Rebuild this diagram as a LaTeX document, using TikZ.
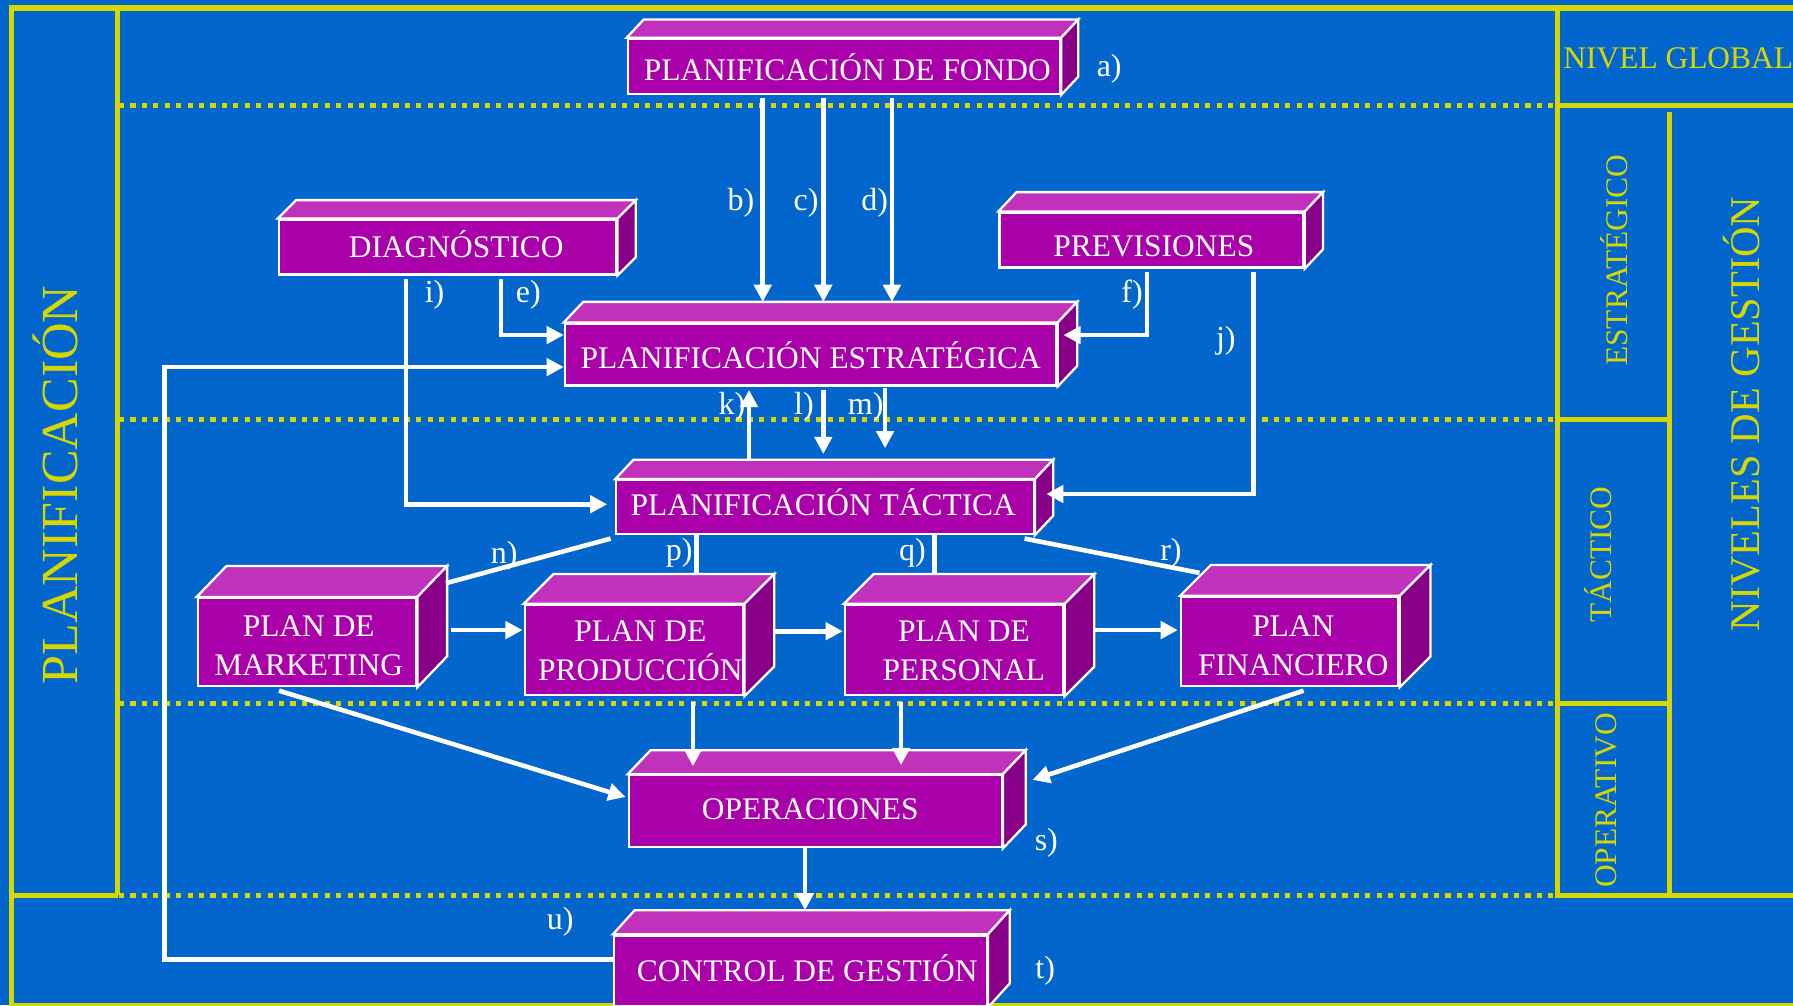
\documentclass[tikz,border=0pt]{standalone}
\usepackage{fontspec}
\setmainfont{Liberation Serif}
\usetikzlibrary{arrows.meta}
\definecolor{bg}{RGB}{3,102,204}
\definecolor{ylw}{RGB}{214,214,0}
\definecolor{frontc}{RGB}{170,0,170}
\definecolor{topc}{RGB}{192,50,188}
\definecolor{sidec}{RGB}{136,0,136}
\tikzset{
 front/.style={fill=frontc, draw=white, line width=2pt, inner sep=0pt},
 boxtext/.style={text=white, inner sep=0pt, anchor=base, font=\fontsize{27.5}{34}\selectfont},
 facetop/.style={fill=topc, draw=white, line width=2pt, line join=miter},
 faceside/.style={fill=sidec, draw=white, line width=2pt, line join=miter},
 arr/.style={draw=white, line width=4pt, -{Triangle[width=15pt,length=15pt]}},
 conn/.style={draw=white, line width=4pt},
 lbl/.style={text=white, font=\fontsize{28}{32}\selectfont, inner sep=0pt},
 ytxt/.style={text=ylw, inner sep=0pt, anchor=base, font=\fontsize{27.5}{33}\selectfont},
 ysolid/.style={draw=ylw, line width=4.5pt},
 ydot/.style={draw=ylw, line width=4.5pt, dash pattern=on 4.5pt off 5.5pt},
}
% #1 name, #2 cx, #3 cy, #4 w, #5 h, #6 dx, #7 dy, #8 text, #9 text baseline point
\newcommand\cubebox[9]{%
  \node[front, minimum width=#4pt, minimum height=#5pt] (#1) at (#2,#3) {};
  \filldraw[facetop] (#1.north west) -- ++(#6,-#7) -- ([shift={(#6pt,#7pt)}]#1.north east) -- (#1.north east) -- cycle;
  \filldraw[faceside] (#1.north east) -- ++(#6,-#7) -- ([shift={(#6pt,#7pt)}]#1.south east) -- (#1.south east) -- cycle;
  \node[boxtext] (#1t) at (#9) {#8};
}
\newcommand\twolines[2]{\begin{tabular}[b]{@{}c@{}}#1\\#2\end{tabular}}
\begin{document}
\begin{tikzpicture}[x=1pt,y=-1pt]
\useasboundingbox (0,0) rectangle (1568,879);
\clip (0,0) rectangle (1568,879);
\fill[bg] (0,0) rectangle (1568,879);
% yellow frame
\draw[ysolid] (8,7) -- (1570,7);
\draw[ysolid] (10,5) -- (10,882);
\draw[ysolid] (103,7) -- (103,783);
\draw[ysolid] (10,783) -- (103,783);
\draw[ydot] (104,92) -- (1360,92);
\draw[ydot] (104,367) -- (1360,367);
\draw[ydot] (104,615) -- (1360,615);
\draw[ydot] (104,783) -- (1360,783);
\draw[ysolid] (1362,7) -- (1362,785);
\draw[ysolid] (1362,92) -- (1570,92);
\draw[ysolid] (1460,98) -- (1460,783);
\draw[ysolid] (1362,367) -- (1460,367);
\draw[ysolid] (1362,615) -- (1460,615);
\draw[ysolid] (1362,783) -- (1570,783);
\draw[draw=ylw, line width=3pt] (8,879) -- (1570,879);
% yellow texts
\node[ytxt, anchor=base west] (nglobal) at (1367,60) {NIVEL GLOBAL};
\node[ytxt, rotate=90] (nestr) at (1423,227.5) {ESTRATÉGICO};
\node[ytxt, rotate=90] (ntact) at (1409,485) {TÁCTICO};
\node[ytxt, rotate=90] (noper) at (1414,700) {OPERATIVO};
\node[ytxt, rotate=90, font=\fontsize{37}{40}\selectfont] (nniv) at (1539,362) {NIVELES DE GESTIÓN};
\node[ytxt, rotate=90, font=\fontsize{45.5}{50}\selectfont] (nplan) at (68,424) {PLANIFICACIÓN};
% boxes
\cubebox{fondo}{738}{58}{378}{48}{15}{16}{PLANIFICACIÓN DE FONDO}{741,70.8}
\cubebox{diag}{391.5}{216}{295}{48}{16}{16}{DIAGNÓSTICO}{399,225}
\cubebox{prev}{1007}{210}{266}{48}{16}{17}{PREVISIONES}{1009,224.5}
\cubebox{estr}{709}{310}{430}{54}{17}{18}{PLANIFICACIÓN ESTRATÉGICA}{709,322}
\cubebox{tact}{721.5}{443.5}{365}{47}{16}{17}{PLANIFICACIÓN TÁCTICA}{720,451}
\cubebox{mark}{268.5}{561.5}{191}{77}{26}{27}{\twolines{PLAN DE}{MARKETING}}{270,591}
\cubebox{prod}{554.5}{568.5}{191}{79}{26}{26}{\twolines{PLAN DE}{PRODUCCIÓN}}{560,595}
\cubebox{pers}{834.5}{568.5}{191}{79}{26}{26}{\twolines{PLAN DE}{PERSONAL}}{843,595}
\cubebox{fin}{1128}{561}{190}{78}{27}{27}{\twolines{PLAN}{FINANCIERO}}{1131,591}
\cubebox{oper}{713}{709.5}{326}{63}{20}{21}{OPERACIONES}{708.6,717}
\cubebox{ctrl}{700}{849}{326}{62}{19}{21}{CONTROL DE GESTIÓN}{706,858}
% connectors
\draw[arr] ([xshift=-71pt,yshift=-3pt]fondo.south) -- ([xshift=-42pt,yshift=18pt]estr.north);
\draw[arr] ([xshift=-18pt,yshift=-3pt]fondo.south) -- ([xshift=11pt,yshift=18pt]estr.north);
\draw[arr] ([xshift=42pt,yshift=-3pt]fondo.south) -- ([xshift=71pt,yshift=18pt]estr.north);
\draw[arr] ([xshift=46.5pt,yshift=-3pt]diag.south) |- ([yshift=17pt]estr.west);
\draw[arr] ([xshift=-36.5pt,yshift=-3pt]diag.south) |- ([xshift=-7pt,yshift=2.5pt]tact.west);
\draw[arr] ([yshift=10pt]ctrl.west) -- ++(-392,0) |- ([yshift=-11pt]estr.west);
\draw[arr] ([xshift=-4pt,yshift=-3pt]prev.south) |- ([xshift=5pt,yshift=17pt]estr.east);
\draw[arr] ([xshift=89pt,yshift=-3pt]prev.south) |- ([xshift=10pt,yshift=11.5pt]tact.east);
\draw[arr] ([xshift=-66.5pt,yshift=17pt]tact.north) -- ([xshift=-54pt,yshift=-3pt]estr.south);
\draw[arr] ([xshift=11pt,yshift=-3pt]estr.south) -- ([xshift=-1.5pt,yshift=22pt]tact.north);
\draw[arr] ([xshift=65pt,yshift=-1pt]estr.south) -- ([xshift=52.5pt,yshift=27pt]tact.north);
\draw[conn] ([xshift=-4pt,yshift=-3pt]tact.south west) -- ([xshift=25pt,yshift=12pt]mark.north east);
\draw[conn] ([xshift=-112.5pt]tact.south) -- ([xshift=54.5pt,yshift=26pt]prod.north);
\draw[conn] ([xshift=95.5pt]tact.south) -- ([xshift=-17.5pt,yshift=26pt]pers.north);
\draw[conn] ([xshift=-9pt,yshift=-3pt]tact.south east) -- ([xshift=17pt,yshift=20pt]fin.north west);
\draw[arr] ([xshift=29pt,yshift=10.5pt]mark.east) -- ([xshift=-1pt,yshift=17.5pt]prod.west);
\draw[arr] ([xshift=27pt,yshift=16.5pt]prod.east) -- ([xshift=-1pt,yshift=16.5pt]pers.west);
\draw[arr] ([xshift=27pt,yshift=17.5pt]pers.east) -- ([xshift=-2pt,yshift=10pt]fin.west);
\draw[arr] ([xshift=-24.5pt,yshift=-3pt]mark.south) -- ([xshift=-2pt,yshift=12.5pt]oper.west);
\draw[arr] ([xshift=51.5pt,yshift=-5pt]prod.south) -- ([xshift=-107pt,yshift=7pt]oper.north);
\draw[arr] ([xshift=-46.5pt,yshift=-5pt]pers.south) -- ([xshift=75pt,yshift=8pt]oper.north);
\draw[arr] ([xshift=12pt,yshift=-3pt]fin.south) -- ([xshift=26pt,yshift=27.5pt]oper.east);
\draw[arr] ([xshift=-9pt]oper.south) -- ([xshift=4pt,yshift=21pt]ctrl.north);
% labels
\node[lbl] (la) at (970,60) {a)};
\node[lbl] (lb) at (648,177) {b)};
\node[lbl] (lc) at (705,177) {c)};
\node[lbl] (ld) at (765,177) {d)};
\node[lbl] (li) at (380,258) {i)};
\node[lbl] (le) at (462,258) {e)};
\node[lbl] (lf) at (990,258) {f)};
\node[lbl] (lj) at (1072,298) {j)};
\node[lbl] (lk) at (640,356) {k)};
\node[lbl] (ll) at (703,356) {l)};
\node[lbl] (lm) at (757,356) {m)};
\node[lbl] (ln) at (441,486) {n)};
\node[lbl] (lp) at (594,483) {p)};
\node[lbl] (lq) at (798,483) {q)};
\node[lbl] (lr) at (1024,483) {r)};
\node[lbl] (ls) at (915,737) {s)};
\node[lbl] (lt) at (914,849) {t)};
\node[lbl] (lu) at (490,806) {u)};
\end{tikzpicture}
\end{document}
